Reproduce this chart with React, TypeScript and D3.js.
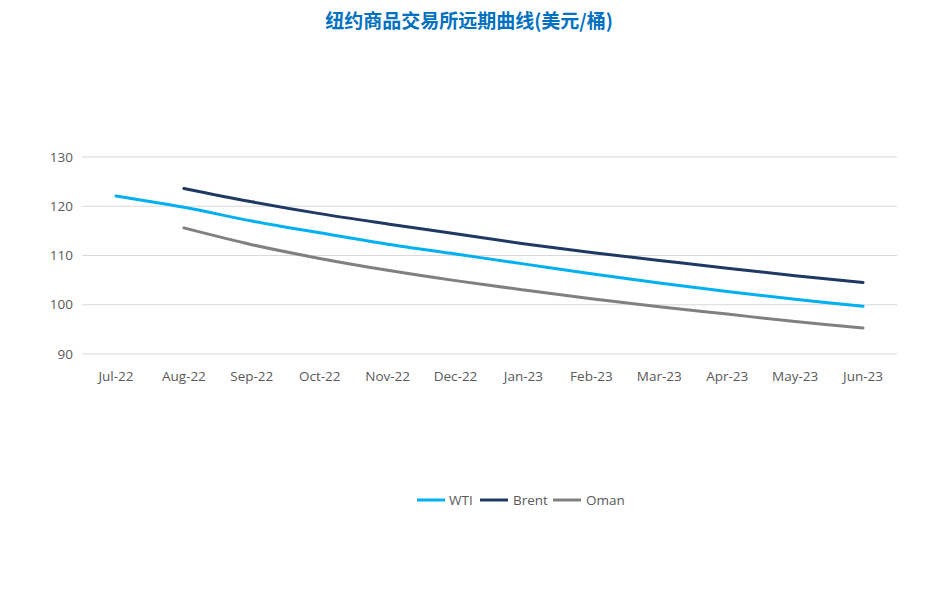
import React from "react";
import * as d3 from "d3";

const categories = ["Jul-22","Aug-22","Sep-22","Oct-22","Nov-22","Dec-22","Jan-23","Feb-23","Mar-23","Apr-23","May-23","Jun-23"];
const wti: (number | null)[] = [122.1,119.8,117.0,114.6,112.3,110.3,108.3,106.3,104.4,102.7,101.1,99.7];
const brent: (number | null)[] = [null,123.6,120.9,118.5,116.4,114.4,112.4,110.6,109.0,107.4,105.9,104.5];
const oman: (number | null)[] = [null,115.6,112.2,109.4,107.0,104.9,103.0,101.2,99.6,98.1,96.6,95.3];
const yTicks = [90,100,110,120,130];
const seriesNames = ["WTI","Brent","Oman"];
const seriesColors = ["#00B0F0","#203864","#808080"];
const title = "纽约商品交易所远期曲线(美元/桶)";

const W = 937, H = 601;
const left = 82, right = 897, top = 157, bottom = 354;

export default function App() {
  const x = d3.scaleBand<string>().domain(categories).range([left, right]);
  const y = d3.scaleLinear().domain([90, 130]).range([bottom, top]);
  const allSeries = [wti, brent, oman];
  const line = d3.line<number | null>()
    .defined((d) => d != null)
    .x((_, i) => (x(categories[i]) as number) + x.bandwidth() / 2)
    .y((d) => y(d as number))
    .curve(d3.curveCatmullRom.alpha(0.5));
  const font = "'Open Sans', 'Noto Sans', sans-serif";
  const legendItems = [
    { lx: 417, tx: 449 },
    { lx: 480, tx: 513 },
    { lx: 553, tx: 586 },
  ];
  return (
    <div style={{ position: "absolute", left: 0, top: 0 }}>
      <svg width={W} height={H} style={{ display: "block", background: "#fff" }}>
        <text x={469} y={28} textAnchor="middle" fill="#0070C0" fontWeight="bold" fontSize={19}
          fontFamily="'Noto Sans CJK SC', sans-serif">{title}</text>
        {yTicks.map((t) => (
          <g key={t}>
            <line x1={left} x2={right} y1={y(t)} y2={y(t)} stroke="#D9D9D9" strokeWidth={1} />
            <text x={73} y={y(t) + 4.5} textAnchor="end" fontSize={13.5} fill="#595959" fontFamily={font}>{t}</text>
          </g>
        ))}
        {categories.map((c) => (
          <text key={c} x={(x(c) as number) + x.bandwidth() / 2} y={381} textAnchor="middle"
            fontSize={13.5} fill="#595959" fontFamily={font}>{c}</text>
        ))}
        {allSeries.map((s, i) => (
          <path key={i} d={line(s) || ""} fill="none" stroke={seriesColors[i]} strokeWidth={3} strokeLinecap="round" />
        ))}
        {seriesNames.map((n, i) => (
          <g key={n}>
            <line x1={legendItems[i].lx} x2={legendItems[i].lx + 28} y1={500} y2={500}
              stroke={seriesColors[i]} strokeWidth={3} />
            <text x={legendItems[i].tx} y={505} fontSize={13.5} fill="#595959" fontFamily={font}>{n}</text>
          </g>
        ))}
      </svg>
    </div>
  );
}
